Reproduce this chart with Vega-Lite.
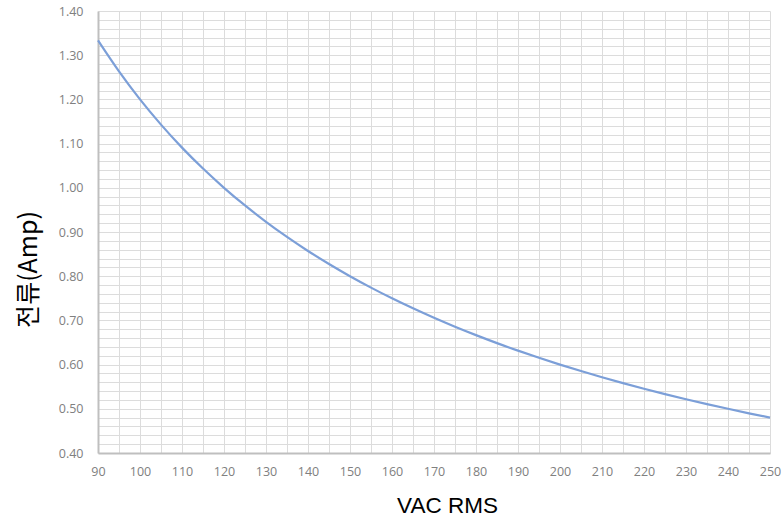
{
  "$schema": "https://vega.github.io/schema/vega-lite/v6.json",
  "width": 672,
  "height": 442,
  "autosize": {"type": "none"},
  "padding": {"left": 98, "top": 11, "right": 12, "bottom": 70},
  "background": "white",
  "data": {"values": [
    {"v": 90, "a": 1.3333}, {"v": 95, "a": 1.2632}, {"v": 100, "a": 1.2}, {"v": 105, "a": 1.1429},
    {"v": 110, "a": 1.0909}, {"v": 115, "a": 1.0435}, {"v": 120, "a": 1.0}, {"v": 125, "a": 0.96},
    {"v": 130, "a": 0.9231}, {"v": 135, "a": 0.8889}, {"v": 140, "a": 0.8571}, {"v": 145, "a": 0.8276},
    {"v": 150, "a": 0.8}, {"v": 155, "a": 0.7742}, {"v": 160, "a": 0.75}, {"v": 165, "a": 0.7273},
    {"v": 170, "a": 0.7059}, {"v": 175, "a": 0.6857}, {"v": 180, "a": 0.6667}, {"v": 185, "a": 0.6486},
    {"v": 190, "a": 0.6316}, {"v": 195, "a": 0.6154}, {"v": 200, "a": 0.6}, {"v": 205, "a": 0.5854},
    {"v": 210, "a": 0.5714}, {"v": 215, "a": 0.5581}, {"v": 220, "a": 0.5455}, {"v": 225, "a": 0.5333},
    {"v": 230, "a": 0.5217}, {"v": 235, "a": 0.5106}, {"v": 240, "a": 0.5}, {"v": 245, "a": 0.4898},
    {"v": 250, "a": 0.48}
  ]},
  "mark": {"type": "line", "interpolate": "monotone", "color": "#7c9fd8", "strokeWidth": 2.2},
  "encoding": {
    "x": {
      "field": "v", "type": "quantitative",
      "scale": {"domain": [90, 250], "nice": false, "zero": false},
      "axis": {
        "values": [90,95,100,105,110,115,120,125,130,135,140,145,150,155,160,165,170,175,180,185,190,195,200,205,210,215,220,225,230,235,240,245,250],
        "labelExpr": "datum.value % 10 === 0 ? datum.label : ''",
        "title": "VAC RMS",
        "titleFont": "Liberation Sans", "titleFontSize": 22.5, "titleFontWeight": "normal", "titleColor": "#000000",
        "titlePadding": 17, "titleX": 349, "titleAlign": "center",
        "labelFont": "Open Sans", "labelFontSize": 12.5, "labelColor": "#808080", "labelPadding": 12,
        "labelFlush": false, "labelBound": false,
        "ticks": false, "domainColor": "#bfbfbf", "domainWidth": 2,
        "gridColor": "#dcdcdc", "gridWidth": 1, "labelOverlap": false
      }
    },
    "y": {
      "field": "a", "type": "quantitative",
      "scale": {"domain": [0.4, 1.4], "nice": false, "zero": false},
      "axis": {
        "values": [0.40,0.42,0.44,0.46,0.48,0.50,0.52,0.54,0.56,0.58,0.60,0.62,0.64,0.66,0.68,0.70,0.72,0.74,0.76,0.78,0.80,0.82,0.84,0.86,0.88,0.90,0.92,0.94,0.96,0.98,1.00,1.02,1.04,1.06,1.08,1.10,1.12,1.14,1.16,1.18,1.20,1.22,1.24,1.26,1.28,1.30,1.32,1.34,1.36,1.38,1.40],
        "format": ".2f",
        "labelExpr": "round(datum.value * 100) % 10 === 0 ? datum.label : ''",
        "title": "전류(Amp)",
        "titleFont": "Noto Sans CJK KR", "titleFontSize": 25, "titleFontWeight": "normal", "titleColor": "#000000",
        "titlePadding": 17, "titleY": 258, "titleAlign": "center",
        "labelFont": "Open Sans", "labelFontSize": 12.5, "labelColor": "#808080", "labelPadding": 15,
        "labelFlush": false, "labelBound": false,
        "ticks": false, "domainColor": "#bfbfbf", "domainWidth": 2,
        "gridColor": "#dcdcdc", "gridWidth": 1, "labelOverlap": false
      }
    }
  },
  "config": {"view": {"stroke": null}}
}
